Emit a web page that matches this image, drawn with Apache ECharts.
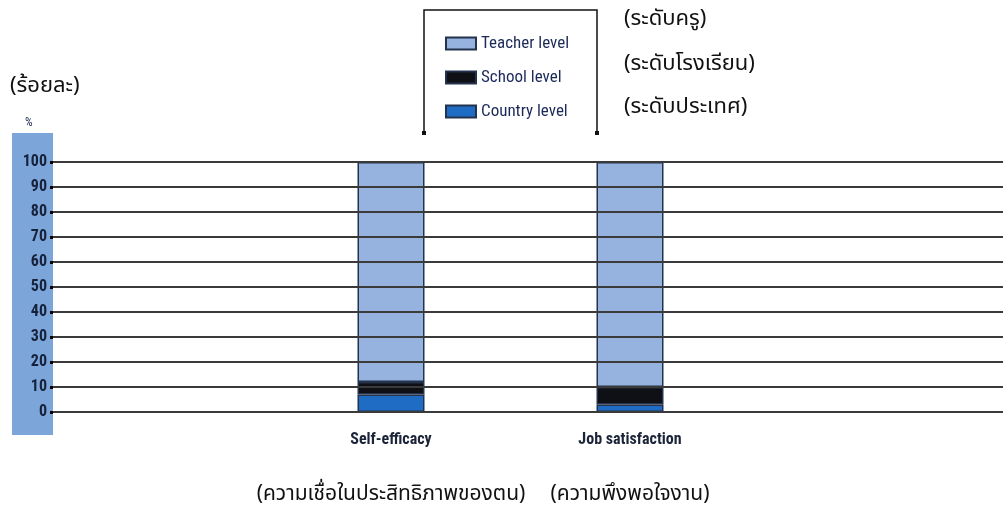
<!DOCTYPE html>
<html>
<head>
<meta charset="utf-8">
<script src="https://cdn.jsdelivr.net/npm/echarts@6/dist/echarts.min.js"></script>
<style>
html,body{margin:0;padding:0;background:#fff;}
#chart{width:1003px;height:509px;}
</style>
</head>
<body>
<div id="chart"></div>
<script>
// ---- data ----
const categories = ['Self-efficacy', 'Job satisfaction'];
const categoriesThai = ['(ความเชื่อในประสิทธิภาพของตน)', '(ความพึงพอใจงาน)'];
const seriesNames = ['Teacher level', 'School level', 'Country level'];
const seriesNamesThai = ['(ระดับครู)', '(ระดับโรงเรียน)', '(ระดับประเทศ)'];
const countryLevel = [7, 3];
const schoolLevel = [5, 7];
const teacherLevel = [88, 90];
const yTicks = [0, 10, 20, 30, 40, 50, 60, 70, 80, 90, 100];
const yUnit = '%';
const yTitleThai = '(ร้อยละ)';

// ---- chart ----
const thaiFont = '"Noto Sans Thai", "Noto Sans Thai UI", Loma, Garuda, Tahoma, "Noto Sans", sans-serif';
const narrow = '"Liberation Sans Narrow", "Roboto Condensed", Roboto, sans-serif';
const pad = v => ['-'].concat(v, ['-']);
const axisCats = [''].concat(categories, ['']);

const colors = { teacher: '#95b3de', school: '#0e1016', country: '#1f6cc4' };
const border = { borderColor: '#25324d', borderWidth: 1.5 };

const chart = echarts.init(document.getElementById('chart'), null, { renderer: 'canvas' });
const option = {
  animation: false,
  backgroundColor: '#fff',
  grid: [
    { left: 53, right: 0, top: 162, bottom: 97 },
    { left: 32.5, right: 14.5, top: 162, bottom: 97 }
  ],
  xAxis: [
    { type: 'category', gridIndex: 0, data: axisCats, show: false },
    {
      type: 'category', gridIndex: 1, data: axisCats,
      axisLine: { show: false }, axisTick: { show: false },
      axisLabel: {
        margin: 18,
        interval: 0,
        formatter: function (v) {
          const i = categories.indexOf(v);
          if (i < 0) return '';
          return '{en|' + v + '}\n{th|' + categoriesThai[i] + '}';
        },
        rich: {
          en: { fontFamily: narrow, fontWeight: 'bold', fontSize: 16, color: '#1b2438', lineHeight: 20 },
          th: { fontFamily: thaiFont, fontSize: 21, color: '#111', lineHeight: 92 }
        }
      }
    }
  ],
  yAxis: [
    {
      type: 'value', gridIndex: 0, min: yTicks[0], max: yTicks[yTicks.length - 1], interval: 10,
      axisLine: { show: false },
      axisTick: { show: true, length: 3, lineStyle: { color: '#000', width: 3 } },
      axisLabel: { fontFamily: narrow, fontWeight: 'bold', fontSize: 16, color: '#16213a', margin: 6 },
      splitLine: { show: true, lineStyle: { color: '#3a3a3a', width: 2 } },
      z: 5
    },
    {
      type: 'value', gridIndex: 1, min: yTicks[0], max: yTicks[yTicks.length - 1], interval: 10,
      show: false, splitLine: { show: false }
    }
  ],
  legend: {
    orient: 'vertical', left: 440, top: 30,
    itemWidth: 30, itemHeight: 12, itemGap: 17,
    icon: 'rect',
    data: seriesNames,
    textStyle: { fontFamily: narrow, fontSize: 17, color: '#1c2a5a', padding: [0, 0, 0, 0] }
  },
  series: [
    { name: seriesNames[2], type: 'bar', stack: 's', xAxisIndex: 1, yAxisIndex: 1, barWidth: 67,
      data: pad(countryLevel), itemStyle: Object.assign({ color: colors.country }, border), z: 3 },
    { name: seriesNames[1], type: 'bar', stack: 's', xAxisIndex: 1, yAxisIndex: 1, barWidth: 67,
      data: pad(schoolLevel), itemStyle: Object.assign({ color: colors.school }, border), z: 3 },
    { name: seriesNames[0], type: 'bar', stack: 's', xAxisIndex: 1, yAxisIndex: 1, barWidth: 67,
      data: pad(teacherLevel), itemStyle: Object.assign({ color: colors.teacher }, border), z: 3 }
  ],
  graphic: [
    { type: 'rect', z: -10, silent: true, shape: { x: 12, y: 133, width: 41, height: 302 }, style: { fill: '#7ca5d9' } },
    { type: 'text', left: 25, top: 117, style: { text: yUnit, fontFamily: narrow, fontSize: 12, fill: '#1c2a5a' } },
    { type: 'text', left: 10, top: 77, style: { text: yTitleThai, fontFamily: thaiFont, fontSize: 22, fill: '#111' } },
    { type: 'polyline', shape: { points: [[424, 133], [424, 10], [597, 10], [597, 133]] }, style: { stroke: '#111', lineWidth: 1.5, fill: null } },
    { type: 'rect', shape: { x: 422, y: 131, width: 4, height: 4 }, style: { fill: '#111' } },
    { type: 'rect', shape: { x: 595, y: 131, width: 4, height: 4 }, style: { fill: '#111' } },
    { type: 'text', left: 624, top: 10, style: { text: seriesNamesThai[0], fontFamily: thaiFont, fontSize: 22, fill: '#111' } },
    { type: 'text', left: 624, top: 55, style: { text: seriesNamesThai[1], fontFamily: thaiFont, fontSize: 22, fill: '#111' } },
    { type: 'text', left: 624, top: 98, style: { text: seriesNamesThai[2], fontFamily: thaiFont, fontSize: 22, fill: '#111' } }
  ]
};
chart.setOption(option);
</script>
</body>
</html>
